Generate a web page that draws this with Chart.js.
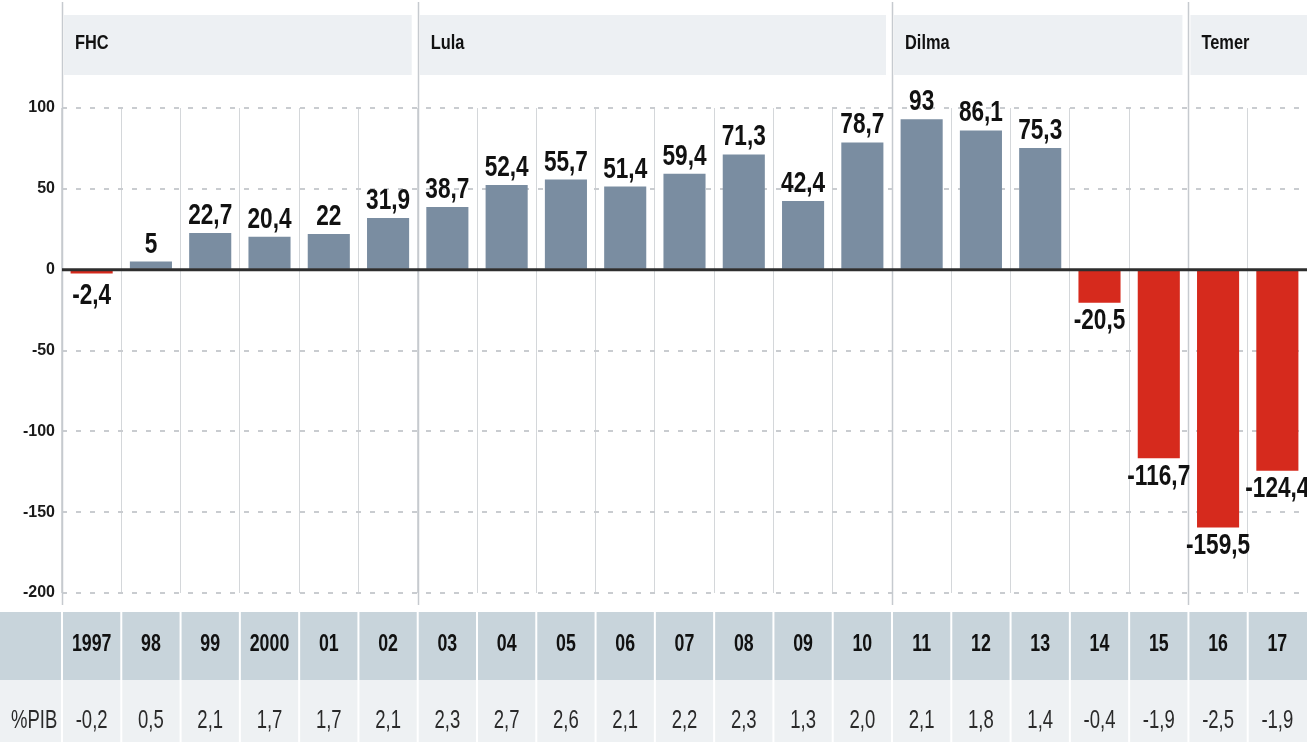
<!DOCTYPE html>
<html>
<head>
<meta charset="utf-8">
<script src="https://cdn.jsdelivr.net/npm/chart.js@4.4.1/dist/chart.umd.min.js"></script>
<style>
  html, body { margin: 0; padding: 0; background: #fff; }
  #wrap { width: 1307px; height: 742px; }
</style>
</head>
<body>
<div id="wrap"><canvas id="chart" width="1307" height="742"></canvas></div>
<script>
const years = ["1997", "98", "99", "2000", "01", "02", "03", "04", "05", "06", "07",
  "08", "09", "10", "11", "12", "13", "14", "15", "16", "17"]
const balance = [-2.4, 5, 22.7, 20.4, 22, 31.9, 38.7, 52.4, 55.7, 51.4, 59.4,
  71.3, 42.4, 78.7, 93, 86.1, 75.3, -20.5, -116.7, -159.5, -124.4]
const pibShare = [-0.2, 0.5, 2.1, 1.7, 1.7, 2.1, 2.3, 2.7, 2.6, 2.1, 2.2,
  2.3, 1.3, 2.0, 2.1, 1.8, 1.4, -0.4, -1.9, -2.5, -1.9]
const eraNames = ["FHC", "Lula", "Dilma", "Temer"]
const eraStart = [0, 6, 14, 19]
const pibLabel = "%PIB"

const FONT = '"Liberation Sans", Arial, sans-serif'
const GRAY = "#7a8da1"
const RED = "#d62a1d"

const fmt = v => String(v).replace(".", ",")

// the original uses a condensed face, so squeeze text horizontally
function narrowText(ctx, text, x, y, sx) {
  ctx.save()
  ctx.translate(x, y)
  ctx.scale(sx, 1)
  ctx.fillText(text, 0, 0)
  ctx.restore()
}

const decor = {
  id: "decor",
  beforeDraw(chart) {
    const { ctx, scales: { x } } = chart
    const half = (x.getPixelForValue(1) - x.getPixelForValue(0)) / 2
    ctx.save()
    ctx.fillStyle = "#edf0f3"
    eraStart.forEach((s, i) => {
      const l = x.getPixelForValue(s) - half
      const r = i + 1 < eraStart.length ? x.getPixelForValue(eraStart[i + 1]) - half : chart.width + 8
      ctx.fillRect(l + 2, 15, r - l - 8, 60)
    })
    ctx.fillStyle = "#c8d4db"
    ctx.fillRect(0, 612, chart.width, 68)
    ctx.fillStyle = "#eef1f3"
    ctx.fillRect(0, 680, chart.width, 62)
    ctx.fillStyle = "#fff"
    years.forEach((_, i) => {
      const bx = x.getPixelForValue(i) - half
      ctx.fillRect(bx - 1, 612, 2, 130)
    })
    ctx.restore()
  },
  beforeDatasetsDraw(chart) {
    const { ctx, chartArea, scales: { x } } = chart
    const half = (x.getPixelForValue(1) - x.getPixelForValue(0)) / 2
    ctx.save()
    ctx.strokeStyle = "#c6cacf"
    ctx.lineWidth = 1.5
    eraStart.forEach(s => {
      const bx = Math.round(x.getPixelForValue(s) - half) + 0.5
      ctx.beginPath()
      ctx.moveTo(bx, 2)
      ctx.lineTo(bx, chartArea.bottom + 12)
      ctx.stroke()
    })
    ctx.restore()
  },
  afterDatasetsDraw(chart) {
    const { ctx, chartArea, scales: { x, y } } = chart
    const half = (x.getPixelForValue(1) - x.getPixelForValue(0)) / 2
    const y0 = y.getPixelForValue(0)
    ctx.save()
    ctx.strokeStyle = "#2e2e2e"
    ctx.lineWidth = 3
    ctx.beginPath()
    ctx.moveTo(chartArea.left, y0)
    ctx.lineTo(chartArea.right, y0)
    ctx.stroke()

    // bar values
    ctx.fillStyle = "#111"
    ctx.textAlign = "center"
    ctx.font = `bold 29px ${FONT}`
    chart.getDatasetMeta(0).data.forEach((el, i) => {
      const v = balance[i]
      if (v >= 0) {
        ctx.textBaseline = "alphabetic"
        narrowText(ctx, fmt(v), el.x, el.y - 9, 0.78)
      } else {
        ctx.textBaseline = "top"
        narrowText(ctx, fmt(v), el.x, Math.max(el.y, y0 + 8) + 4, 0.78)
      }
    })

    // era names
    ctx.textAlign = "left"
    ctx.textBaseline = "middle"
    ctx.font = `bold 21px ${FONT}`
    eraStart.forEach((s, i) => {
      narrowText(ctx, eraNames[i], x.getPixelForValue(s) - half + 13, 43, 0.78)
    })

    // year row
    ctx.textAlign = "center"
    ctx.fillStyle = "#111"
    ctx.font = `bold 24px ${FONT}`
    years.forEach((lab, i) => {
      narrowText(ctx, lab, x.getPixelForValue(i), 644, 0.74)
    })

    // %PIB row
    ctx.fillStyle = "#2a2a2a"
    ctx.font = `25px ${FONT}`
    ctx.textAlign = "left"
    narrowText(ctx, pibLabel, 11, 721, 0.74)
    ctx.textAlign = "center"
    pibShare.forEach((v, i) => {
      narrowText(ctx, v.toFixed(1).replace(".", ","), x.getPixelForValue(i), 721, 0.74)
    })
    ctx.restore()
  }
}

new Chart(document.getElementById("chart"), {
  type: "bar",
  data: {
    labels: years,
    datasets: [{
      data: balance,
      backgroundColor: balance.map(v => v < 0 ? RED : GRAY),
      barPercentage: 0.71,
      categoryPercentage: 1
    }]
  },
  options: {
    responsive: false,
    animation: false,
    layout: { padding: { top: 108, right: 0, left: 0, bottom: 0 } },
    plugins: {
      legend: { display: false },
      tooltip: { enabled: false }
    },
    scales: {
      x: {
        afterFit(s) { s.height = 149 },
        grid: { offset: true, color: "#d4d7da", lineWidth: 1, drawTicks: false },
        border: { display: false },
        ticks: { display: false }
      },
      y: {
        min: -200,
        max: 100,
        afterFit(s) { s.width = 62 },
        grid: {
          color: c => c.tick && c.tick.value === 0 ? "rgba(0,0,0,0)" : "#c9ccd0",
          lineWidth: 2,
          drawTicks: false
        },
        border: { display: false, dash: [5, 9] },
        ticks: {
          stepSize: 50,
          color: "#1a1a1a",
          padding: 7,
          font: { family: FONT, size: 16, weight: "bold" }
        }
      }
    }
  },
  plugins: [decor]
})
</script>
</body>
</html>
